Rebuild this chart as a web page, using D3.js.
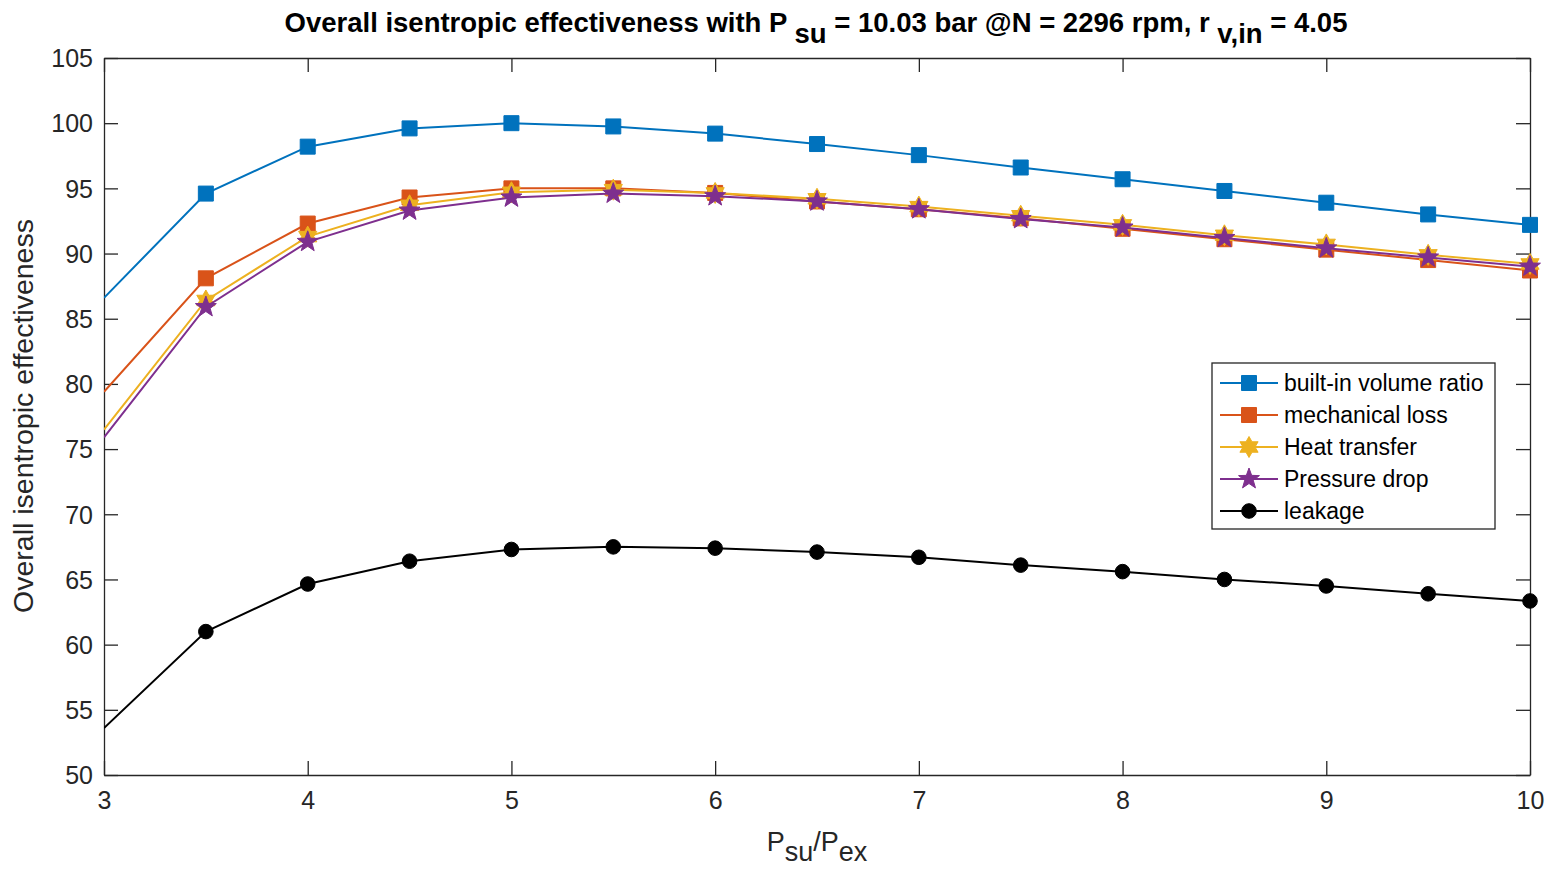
<!DOCTYPE html>
<html><head><meta charset="utf-8">
<script src="https://cdn.jsdelivr.net/npm/d3@7"></script>
<style>body{margin:0;background:#fff}svg{display:block}text{font-family:"Liberation Sans",Arial,sans-serif}</style>
</head><body>
<svg id="c" width="1555" height="872"></svg>
<script>
const xValues = [3,3.5,4,4.5,5,5.5,6,6.5,7,7.5,8,8.5,9,9.5,10];
const builtIn = [86.6,94.6,98.2,99.6,100.0,99.75,99.2,98.4,97.55,96.6,95.7,94.8,93.9,93.0,92.2];
const mechLoss = [79.4,88.1,92.3,94.3,95.0,95.0,94.65,94.0,93.4,92.7,91.9,91.1,90.3,89.5,88.7];
const heatTransfer = [76.5,86.4,91.3,93.7,94.7,94.9,94.65,94.2,93.6,92.9,92.2,91.4,90.7,89.9,89.2];
const pressureDrop = [75.9,85.9,90.9,93.3,94.3,94.6,94.4,94.0,93.4,92.65,92.0,91.2,90.4,89.7,89.0];
const leakage = [53.6,61.0,64.65,66.4,67.3,67.5,67.4,67.1,66.7,66.1,65.6,65.0,64.5,63.9,63.35];
const seriesNames = ["built-in volume ratio","mechanical loss","Heat transfer","Pressure drop","leakage"];
const xTicks = [3,4,5,6,7,8,9,10];
const yTicks = [50,55,60,65,70,75,80,85,90,95,100,105];

const colors = ["#0072BD","#D95319","#EDB120","#7E2F8E","#000000"];
const markers = ["square","square","hexagram","pentagram","circle"];
const allSeries = [builtIn,mechLoss,heatTransfer,pressureDrop,leakage];

const svg = d3.select("#c");
const L=104,R=1530,T=58,B=775;
const x = d3.scaleLinear().domain([3,10]).range([L,R]);
const y = d3.scaleLinear().domain([50,105]).range([B,T]);
const axCol="#262626";

const tickLen=14;
const gx = svg.append("g").attr("transform",`translate(0,${B})`)
  .call(d3.axisBottom(x).tickValues(xTicks).tickFormat(d3.format("d")).tickSizeInner(-tickLen).tickSizeOuter(0).tickPadding(16));
const gxt = svg.append("g").attr("transform",`translate(0,${T})`)
  .call(d3.axisTop(x).tickValues(xTicks).tickFormat("").tickSizeInner(-tickLen).tickSizeOuter(0));
const gy = svg.append("g").attr("transform",`translate(${L},0)`)
  .call(d3.axisLeft(y).tickValues(yTicks).tickFormat(d3.format("d")).tickSizeInner(-tickLen).tickSizeOuter(0).tickPadding(11));
const gyr = svg.append("g").attr("transform",`translate(${R},0)`)
  .call(d3.axisRight(y).tickValues(yTicks).tickFormat("").tickSizeInner(-tickLen).tickSizeOuter(0));
[gx,gxt,gy,gyr].forEach(g=>{
  g.selectAll("path").attr("stroke",axCol).attr("stroke-width",1.3);
  g.selectAll("line").attr("stroke",axCol).attr("stroke-width",1.3);
  g.selectAll("text").attr("fill","#262626").style("font-size","25px");
});
gy.selectAll("text").attr("dy","0.35em");

svg.append("clipPath").attr("id","clip").append("rect").attr("x",L).attr("y",T).attr("width",R-L).attr("height",B-T);

function starPath(n, rOuter, rInner){
  const pts=[];
  for(let i=0;i<2*n;i++){
    const a = -Math.PI/2 + i*Math.PI/n;
    const r = i%2===0?rOuter:rInner;
    pts.push([r*Math.cos(a), r*Math.sin(a)]);
  }
  return "M"+pts.map(p=>p[0].toFixed(2)+","+p[1].toFixed(2)).join("L")+"Z";
}
function markerPath(type){
  if(type==="square") return "M-7.5,-7.5L7.5,-7.5L7.5,7.5L-7.5,7.5Z";
  if(type==="hexagram") return starPath(6,10.5,6);
  if(type==="pentagram") return starPath(5,11,4.5);
  return d3.symbol(d3.symbolCircle, Math.PI*7.3*7.3)();
}

const line = d3.line().x(d=>x(d[0])).y(d=>y(d[1]));
allSeries.forEach((vals,i)=>{
  const data = xValues.map((xv,j)=>[xv,vals[j]]);
  const g = svg.append("g");
  g.append("path").datum(data).attr("d",line).attr("fill","none")
    .attr("stroke",colors[i]).attr("stroke-width",2).attr("clip-path","url(#clip)");
  g.selectAll("path.m").data(data.filter(d=>d[0]>3)).enter().append("path").attr("class","m")
    .attr("d",markerPath(markers[i]))
    .attr("transform",d=>`translate(${x(d[0])},${y(d[1])})`)
    .attr("fill",colors[i]).attr("stroke",colors[i]).attr("stroke-width",1);
});

const lg = svg.append("g");
lg.append("rect").attr("x",1212).attr("y",363).attr("width",283).attr("height",166)
  .attr("fill","#fff").attr("stroke",axCol).attr("stroke-width",1.3);
seriesNames.forEach((n,i)=>{
  const yy = 383 + i*32;
  lg.append("line").attr("x1",1220).attr("x2",1278).attr("y1",yy).attr("y2",yy)
    .attr("stroke",colors[i]).attr("stroke-width",2);
  lg.append("path").attr("d",markerPath(markers[i])).attr("transform",`translate(1249,${yy})`)
    .attr("fill",colors[i]).attr("stroke",colors[i]);
  lg.append("text").attr("x",1284).attr("y",yy).attr("dy","0.36em").style("font-size","23px")
    .attr("fill","#000").text(n);
});

const title = svg.append("text").attr("x",816).attr("y",32).attr("text-anchor","middle")
  .style("font-size","27.5px").style("font-weight","bold").attr("fill","#000");
title.append("tspan").text("Overall isentropic effectiveness with P ");
title.append("tspan").attr("dy",11).text("su");
title.append("tspan").attr("dy",-11).text(" = 10.03 bar @N = 2296 rpm, r ");
title.append("tspan").attr("dy",11).text("v,in");
title.append("tspan").attr("dy",-11).text(" = 4.05");

const xl = svg.append("text").attr("x",817).attr("y",851).attr("text-anchor","middle")
  .style("font-size","27px").attr("fill","#262626");
xl.append("tspan").text("P");
xl.append("tspan").attr("dy",10).text("su");
xl.append("tspan").attr("dy",-10).text("/P");
xl.append("tspan").attr("dy",10).text("ex");

svg.append("text").attr("transform","translate(33,416) rotate(-90)").attr("text-anchor","middle")
  .style("font-size","28.5px").attr("fill","#262626").text("Overall isentropic effectiveness");
</script>
</body></html>
